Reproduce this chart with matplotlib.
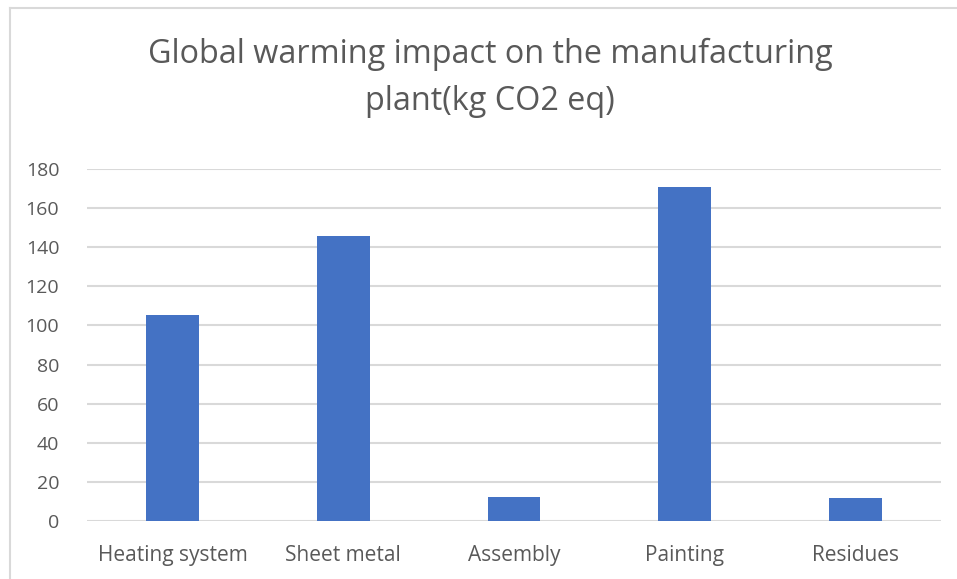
import numpy as np
import matplotlib
matplotlib.use("Agg")
import matplotlib.pyplot as plt
from matplotlib.lines import Line2D

# stage emissions, kg CO2 eq
stages = ['Heating system', 'Sheet metal', 'Assembly', 'Painting', 'Residues']
co2 = [105.3, 145.9, 12.4, 170.6, 11.9]
yticks = [0, 20, 40, 60, 80, 100, 120, 140, 160, 180]

text_col = '#595959'
grid_col = '#d9d9d9'
bar_col = '#4472c4'

plt.rcParams['font.family'] = ['Open Sans', 'DejaVu Sans']

fig = plt.figure(figsize=(9.57, 5.79), dpi=100)
ax = fig.add_axes([87 / 957, 1 - 521 / 579, (941 - 87) / 957, (521 - 169) / 579])

x = np.arange(len(stages))
ax.bar(x, co2, width=0.31, color=bar_col, zorder=3)

ax.set_xlim(-0.5, len(stages) - 0.5)
ax.set_ylim(0, 180)
ax.set_yticks(yticks)
ax.set_xticks(x)
ax.set_xticklabels(stages)
ax.grid(axis='y', color=grid_col, linewidth=1.5, zorder=0)
for s in ax.spines.values():
    s.set_visible(False)
ax.tick_params(length=0, labelsize=14, labelcolor=text_col)
ax.tick_params(axis='x', labelsize=15, pad=17)
ax.tick_params(axis='y', pad=20)

fig.text(0.512, 1 - 54 / 579, 'Global warming impact on the manufacturing',
         ha='center', va='center', fontsize=23.3, color=text_col)
fig.text(0.512, 1 - 101 / 579, 'plant(kg CO2 eq)',
         ha='center', va='center', fontsize=23.3, color=text_col)

# chart frame edges (top and left)
fig.add_artist(Line2D([9.5 / 957, 1], [1 - 7.5 / 579, 1 - 7.5 / 579],
                      transform=fig.transFigure, color=grid_col, linewidth=1.5))
fig.add_artist(Line2D([9.5 / 957, 9.5 / 957], [0, 1 - 7.5 / 579],
                      transform=fig.transFigure, color=grid_col, linewidth=1.5))

fig.savefig('out.png', dpi=100)
